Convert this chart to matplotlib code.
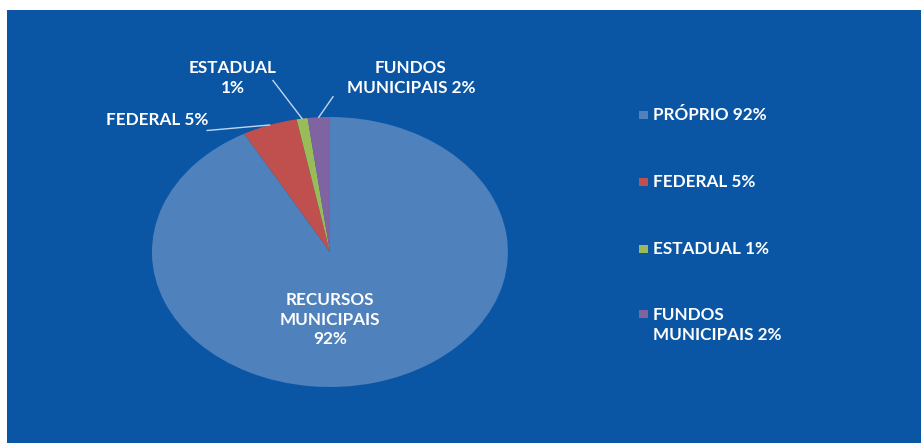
import numpy as np
from matplotlib import pyplot as plt
from matplotlib.patches import Rectangle

# dados do grafico
categorias = ['PRÓPRIO', 'FEDERAL', 'ESTADUAL', 'FUNDOS\nMUNICIPAIS']
valores = [92, 5, 1, 2]
cores = ['#4F81BD', '#C0504D', '#9BBB59', '#8064A2']
legenda = ['PRÓPRIO 92%', 'FEDERAL 5%', 'ESTADUAL 1%', 'FUNDOS\nMUNICIPAIS 2%']
rotulos = ['RECURSOS\nMUNICIPAIS\n92%', 'FEDERAL 5%', 'ESTADUAL\n1%', 'FUNDOS\nMUNICIPAIS 2%']

plt.rcParams['font.family'] = ['Lato', 'DejaVu Sans']
fundo = '#0B56A4'
linha = '#BFD6EE'
fs = 12.3

fig = plt.figure(figsize=(9.21, 4.43), dpi=100)
fig.patch.set_facecolor('white')

# fundo azul
bg = fig.add_axes([7 / 921, 0, 1 - 7 / 921, 1 - 10 / 443], zorder=-1)
bg.set_facecolor(fundo)
bg.set_xticks([])
bg.set_yticks([])
for s in bg.spines.values():
    s.set_visible(False)

# eixo da pizza (elipse, aspecto livre)
ax = fig.add_axes([0.165, 0.1264, 0.3865, 0.6095])
ax.set_facecolor('none')
wedges, _ = ax.pie(valores, colors=cores, startangle=90, counterclock=False,
                   wedgeprops=dict(linewidth=0))
ax.set_xlim(-1, 1)
ax.set_ylim(-1, 1)
ax.set_aspect('auto')
ax.axis('off')

kw = dict(color='white', fontsize=fs, fontweight='bold', ha='center', va='center',
          linespacing=1.3)

# rotulo interno
ax.text(0, -0.5, rotulos[0], **kw)

# rotulos externos com linha guia
pos_texto = [None, (-0.97, 0.98), (-0.545, 1.29), (0.455, 1.29)]
inicio_linha = [None, (-0.69, 0.90), (-0.32, 1.27), (0.017, 1.15)]
for i in range(1, 4):
    w = wedges[i]
    ang = np.deg2rad((w.theta1 + w.theta2) / 2)
    px, py = np.cos(ang), np.sin(ang)
    ax.text(pos_texto[i][0], pos_texto[i][1], rotulos[i], **kw)
    ax.plot([inicio_linha[i][0], px], [inicio_linha[i][1], py], color=linha, lw=1.0,
            clip_on=False)

# legenda manual
ys = [115, 182, 249, 314]
for i, txt in enumerate(legenda):
    y = 1 - ys[i] / 443
    fig.patches.append(Rectangle((639 / 921, y - 4 / 443), 9 / 921, 8 / 443,
                                 transform=fig.transFigure, facecolor=cores[i],
                                 edgecolor='none', zorder=3))
    if '\n' in txt:
        fig.text(653 / 921, y + 7 / 443, txt, color='white', fontsize=fs,
                 fontweight='bold', ha='left', va='top', linespacing=1.3)
    else:
        fig.text(653 / 921, y, txt, color='white', fontsize=fs, fontweight='bold',
                 ha='left', va='center')

fig.savefig('out.png', dpi=100, facecolor=fig.get_facecolor())
